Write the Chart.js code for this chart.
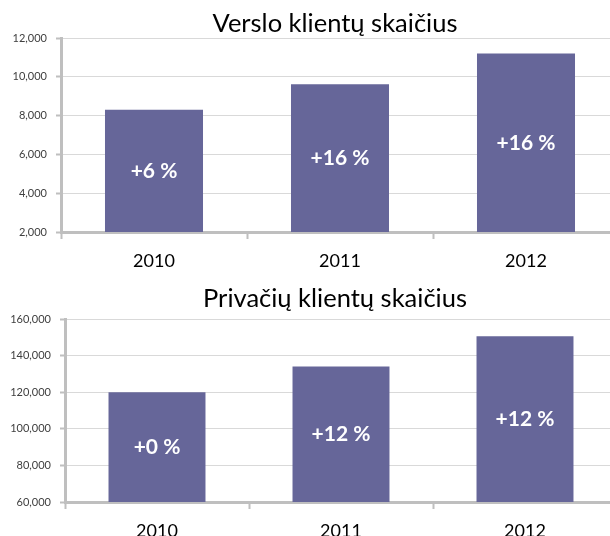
<!DOCTYPE html>
<html>
<head>
<meta charset="utf-8">
<script src="https://cdn.jsdelivr.net/npm/chart.js@4"></script>
<style>
  html, body { margin: 0; padding: 0; background: #fff; overflow: hidden; width: 610px; height: 536px; }
  .wrap { position: absolute; left: 0; width: 610px; overflow: hidden; }
</style>
</head>
<body>
<div class="wrap" style="top:0;height:275px"><canvas id="business" width="670" height="275"></canvas></div>
<div class="wrap" style="top:275px;height:261px"><canvas id="private" width="670" height="261"></canvas></div>
<script>
/* ============================================
   Klientų skaičius — two bar charts
   ============================================ */

const years = ['2010', '2011', '2012'];

// Verslo klientai
const businessClients = [8300, 9620, 11200];
const businessGrowth = ['+6 %', '+16 %', '+16 %'];
const businessRange = [2000, 12000, 2000]; // min, max, step

// Privatūs klientai
const privateClients = [120000, 134000, 150600];
const privateGrowth = ['+0 %', '+12 %', '+12 %'];
const privateRange = [60000, 160000, 20000];

const FONT = 'Lato, "Open Sans", sans-serif';
const AXIS_GRAY = '#bfbfbf';

// White % labels centred in the visible part of each bar
const barLabels = {
  id: 'barLabels',
  afterDatasetsDraw(chart, args, opts) {
    const { ctx, chartArea } = chart;
    const meta = chart.getDatasetMeta(0);
    ctx.save();
    ctx.fillStyle = '#ffffff';
    ctx.font = 'bold 21px ' + FONT;
    ctx.textAlign = 'center';
    ctx.textBaseline = 'middle';
    meta.data.forEach((bar, i) => {
      const base = Math.min(bar.base, chartArea.bottom);
      ctx.fillText(opts.labels[i], bar.x, (bar.y + base) / 2);
    });
    ctx.restore();
  }
};

function makeChart(id, title, values, growth, range, box) {
  return new Chart(document.getElementById(id), {
    type: 'bar',
    data: {
      labels: years,
      datasets: [{
        data: values,
        backgroundColor: '#666699',
        borderWidth: 0,
        categoryPercentage: 1,
        barPercentage: 0.527
      }]
    },
    options: {
      responsive: false,
      animation: false,
      layout: { padding: 0 },
      scales: {
        x: {
          afterFit: (s) => { s.height = box.xHeight; },
          border: { color: AXIS_GRAY, width: 3 },
          grid: { offset: true, drawOnChartArea: false, drawTicks: true, tickLength: 7, tickColor: AXIS_GRAY, tickWidth: 2 },
          ticks: { font: { family: FONT, size: 18 }, color: '#000', padding: 11 }
        },
        y: {
          min: range[0],
          max: range[1],
          afterFit: (s) => { s.width = box.left; },
          border: { color: AXIS_GRAY, width: 3 },
          grid: { color: '#d9d9d9', lineWidth: 1, drawTicks: true, tickLength: 5, tickColor: AXIS_GRAY, tickWidth: 2 },
          ticks: {
            stepSize: range[2],
            padding: 9,
            font: { family: FONT, size: 11 },
            color: '#404040',
            callback: (v) => v.toLocaleString('en-US')
          }
        },
        // empty right-hand box: plot runs past the picture edge, title stays centred
        spacer: {
          position: 'right',
          afterFit: (s) => { s.width = box.right; },
          border: { display: false },
          grid: { display: false },
          ticks: { display: false }
        }
      },
      plugins: {
        legend: { display: false },
        tooltip: { enabled: false },
        title: {
          display: true,
          text: title,
          color: '#000',
          font: { family: FONT, size: 25.5, weight: 'normal', lineHeight: 1.15 },
          padding: { top: box.titleTop, bottom: box.titleBottom }
        },
        barLabels: { labels: growth }
      }
    },
    plugins: [barLabels]
  });
}

makeChart('business', 'Verslo klientų skaičius', businessClients, businessGrowth, businessRange,
  { left: 61, right: 51, xHeight: 43, titleTop: 8.7, titleBottom: 0 });

makeChart('private', 'Privačių klientų skaičius', privateClients, privateGrowth, privateRange,
  { left: 65, right: 53, xHeight: 34, titleTop: 9.3, titleBottom: 5.4 });
</script>
</body>
</html>
